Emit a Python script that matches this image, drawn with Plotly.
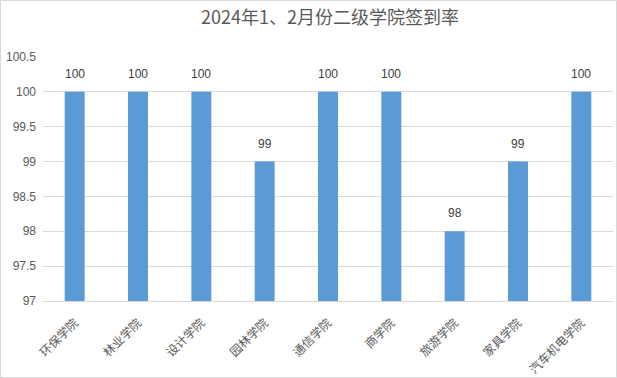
import plotly.graph_objects as go

categories = ["环保学院", "林业学院", "设计学院", "园林学院", "通信学院", "商学院", "旅游学院", "家具学院", "汽车机电学院"]
values = [100, 100, 100, 99, 100, 100, 98, 99, 100]
title_text = "2024年1、2月份二级学院签到率"

font_family = "Liberation Sans, Noto Sans CJK SC, sans-serif"

fig = go.Figure(
    go.Bar(
        x=categories,
        y=values,
        marker=dict(color="#5B9BD5", line=dict(width=0)),
        hoverinfo="x+y",
    )
)

for c, v in zip(categories, values):
    fig.add_annotation(
        x=c, y=v, text=str(v), showarrow=False, yanchor="bottom", yshift=9,
        font=dict(size=12, color="#404040", family=font_family),
    )

fig.update_layout(
    width=617,
    height=378,
    paper_bgcolor="white",
    plot_bgcolor="white",
    margin=dict(l=43, r=4, t=57, b=77, autoexpand=False),
    bargap=0.685,
    showlegend=False,
    title=dict(
        text=title_text,
        x=0.535,
        xanchor="center",
        y=0.953,
        yanchor="middle",
        font=dict(size=18, color="#595959", family="Noto Sans CJK SC, sans-serif"),
    ),
    font=dict(family=font_family, color="#595959"),
    shapes=[
        dict(
            type="rect", xref="paper", yref="paper",
            x0=-42.5 / 570, x1=1 + 3.5 / 570, y0=-76.5 / 244, y1=1 + 56.5 / 244,
            line=dict(color="#d9d9d9", width=1), fillcolor="rgba(0,0,0,0)", layer="below",
        )
    ],
)

fig.update_yaxes(
    range=[97, 100.5],
    dtick=0.5,
    tick0=97,
    showgrid=True,
    gridcolor="#d9d9d9",
    gridwidth=1,
    zeroline=False,
    showline=False,
    ticks="",
    automargin=False,
    ticklabelstandoff=6,
    tickfont=dict(size=12, color="#595959", family=font_family),
)

fig.update_xaxes(
    showline=True,
    linecolor="#d9d9d9",
    linewidth=1,
    ticks="outside",
    ticklen=9,
    tickcolor="rgba(0,0,0,0)",
    tickangle=-45,
    automargin=False,
    tickfont=dict(size=12, color="#595959", family="Noto Sans CJK SC, sans-serif"),
)

fig.write_html(
    "out.html",
    config={"displayModeBar": False},
    post_script="document.body.style.margin='0';document.body.style.overflow='hidden';",
)
